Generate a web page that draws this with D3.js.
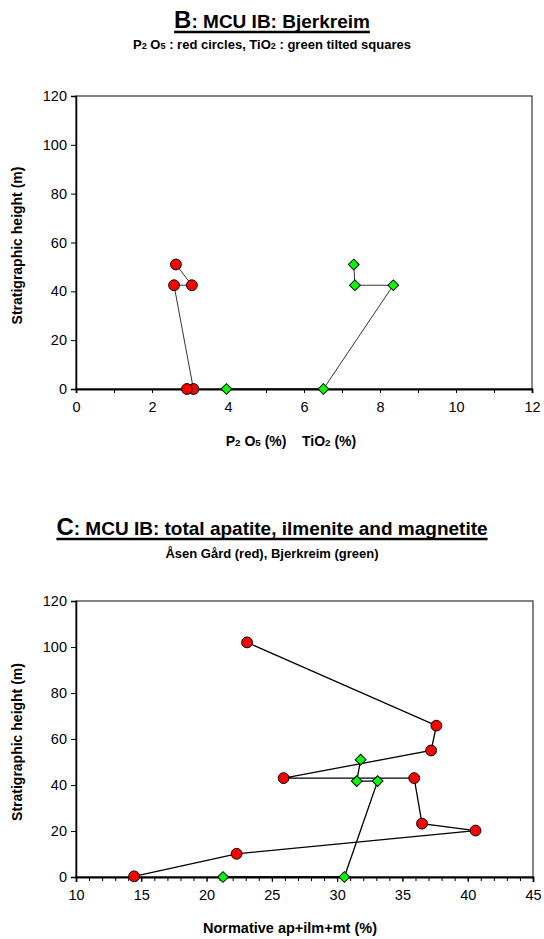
<!DOCTYPE html>
<html>
<head>
<meta charset="utf-8">
<script src="https://cdn.jsdelivr.net/npm/d3@7"></script>
<style>
  body { margin: 0; background: #fff; }
  svg { display: block; font-family: "Liberation Sans", Arial, sans-serif; }
</style>
</head>
<body>
<div id="main"></div>
<script>
// Chart B: Bjerkreim, P2O5 and TiO2 vs height
const bP2O5 = [2.63, 3.05, 2.58, 3.09, 2.92];
const bP2O5Height = [51, 42.5, 42.5, 0, 0];
const bTiO2 = [7.31, 7.34, 8.35, 6.51, 3.96];
const bTiO2Height = [51, 42.5, 42.5, 0, 0];

// Chart C: total apatite + ilmenite + magnetite
const cAsen = [23.1, 37.6, 37.2, 25.9, 35.9, 36.5, 40.6, 22.3, 14.45];
const cAsenHeight = [102, 65.8, 55, 43, 43, 23.2, 20.2, 10.1, 0.3];
const cBjerk = [31.8, 31.5, 33.1, 30.55, 21.26];
const cBjerkHeight = [51, 41.7, 41.7, 0, 0];

const yTicks = [0, 20, 40, 60, 80, 100, 120];
const bXTicks = [0, 2, 4, 6, 8, 10, 12];
const cXTicks = [10, 15, 20, 25, 30, 35, 40, 45];

const W = 544, H = 939;
const svg = d3.select('#main').append('svg')
  .attr('width', W)
  .attr('height', H);

const RED = '#ff0000';
const GREEN = '#00ff00';

// draws one panel: frame, axes, ticks
function panel(opt) {
  const g = svg.append('g');
  const x = d3.scaleLinear().domain(opt.xDomain).range([opt.left, opt.right]);
  const y = d3.scaleLinear().domain([0, 120]).range([opt.bottom, opt.top]);

  // frame
  g.append('rect')
    .attr('x', opt.left).attr('y', opt.top)
    .attr('width', opt.right - opt.left)
    .attr('height', opt.bottom - opt.top)
    .attr('fill', 'none')
    .attr('stroke', '#333')
    .attr('stroke-width', 1.2);

  // y axis
  const yAxis = d3.axisLeft(y).tickValues(yTicks).tickSize(5).tickPadding(4);
  g.append('g')
    .attr('transform', `translate(${opt.left},0)`)
    .call(yAxis)
    .call(a => a.select('.domain').attr('stroke', '#000').attr('stroke-width', 1.5))
    .selectAll('text')
    .style('font-size', '14.5px')
    .attr('fill', '#000');

  // minor x ticks
  const minor = d3.range(opt.xDomain[0], opt.xDomain[1] + 0.001, 1);
  g.append('g')
    .attr('transform', `translate(0,${opt.bottom})`)
    .call(d3.axisBottom(x).tickValues(minor).tickSize(4).tickFormat(''))
    .call(a => a.select('.domain').remove());

  // x axis
  const xAxis = d3.axisBottom(x).tickValues(opt.xTicks).tickSize(opt.majorTick).tickPadding(opt.pad);
  g.append('g')
    .attr('transform', `translate(0,${opt.bottom})`)
    .call(xAxis)
    .call(a => a.select('.domain').attr('stroke', '#000').attr('stroke-width', 1.8))
    .selectAll('text')
    .style('font-size', '14.5px')
    .attr('fill', '#000');

  // y axis title
  g.append('text')
    .attr('transform', `translate(22,${(opt.top + opt.bottom) / 2 + 3}) rotate(-90)`)
    .attr('text-anchor', 'middle')
    .style('font-size', '14px')
    .style('font-weight', 'bold')
    .text('Stratigraphic height (m)');

  return {g, x, y};
}

function series(p, xs, ys, color, shape, lw) {
  const pts = xs.map((v, i) => [p.x(v), p.y(ys[i])]);
  p.g.append('path')
    .attr('d', d3.line()(pts))
    .attr('fill', 'none')
    .attr('stroke', '#000')
    .attr('stroke-width', lw);
  const sym = shape === 'circle'
    ? d3.symbol().type(d3.symbolCircle).size(Math.PI * 5.4 * 5.4)
    : d3.symbol().type(d3.symbolSquare).size(7.6 * 7.6);
  p.g.selectAll(null)
    .data(pts)
    .enter()
    .append('path')
    .attr('d', sym)
    .attr('transform', d => `translate(${d[0]},${d[1]})` + (shape === 'circle' ? '' : ' rotate(45)'))
    .attr('fill', color)
    .attr('stroke', '#000')
    .attr('stroke-width', 1);
}

function title(letter, rest, yBase) {
  const t = svg.append('text')
    .attr('x', W / 2)
    .attr('y', yBase)
    .attr('text-anchor', 'middle')
    .style('font-weight', 'bold');
  t.append('tspan').style('font-size', '24px').text(letter);
  t.append('tspan').style('font-size', '19px').text(rest);
  const bb = t.node().getBBox();
  svg.append('line')
    .attr('x1', bb.x).attr('x2', bb.x + bb.width)
    .attr('y1', yBase + 4).attr('y2', yBase + 4)
    .attr('stroke', '#000')
    .attr('stroke-width', 2.4);
}

// pieces: [text, isSub]
function richText(parts, x, y, size) {
  const t = svg.append('text')
    .attr('x', x).attr('y', y)
    .attr('text-anchor', 'middle')
    .attr('xml:space', 'preserve')
    .style('white-space', 'pre')
    .style('font-weight', 'bold')
    .style('font-size', size + 'px');
  parts.forEach(p => {
    const s = t.append('tspan').text(p[0]);
    if (p[1]) s.style('font-size', (size * 0.7) + 'px');
  });
  return t;
}

// ---- Chart B ----
title('B', ': MCU IB: Bjerkreim', 28);
richText([['P'], ['2', true], [' O'], ['5', true], [' : red circles, TiO'], ['2', true], [' : green tilted squares']], W / 2, 49, 13);

const pB = panel({
  xDomain: [0, 12], xTicks: bXTicks,
  left: 76, right: 532, top: 96, bottom: 389,
  majorTick: 4, pad: 9
});
series(pB, bP2O5, bP2O5Height, RED, 'circle', 0.8);
series(pB, bTiO2, bTiO2Height, GREEN, 'diamond', 0.8);

richText([['P'], ['2', true], [' O'], ['5', true], [' (%)    TiO'], ['2', true], [' (%)']], 291, 446, 14);

// ---- Chart C ----
title('C', ': MCU IB: total apatite, ilmenite and magnetite', 535);
richText([['Åsen Gård (red), Bjerkreim (green)']], W / 2, 558, 13);

const pC = panel({
  xDomain: [10, 45], xTicks: cXTicks,
  left: 76, right: 533, top: 601, bottom: 877,
  majorTick: 5, pad: 8
});
series(pC, cAsen, cAsenHeight, RED, 'circle', 1.3);
series(pC, cBjerk, cBjerkHeight, GREEN, 'diamond', 1.3);

richText([['Normative ap+ilm+mt (%)']], 290, 933, 14.5);
</script>
</body>
</html>
